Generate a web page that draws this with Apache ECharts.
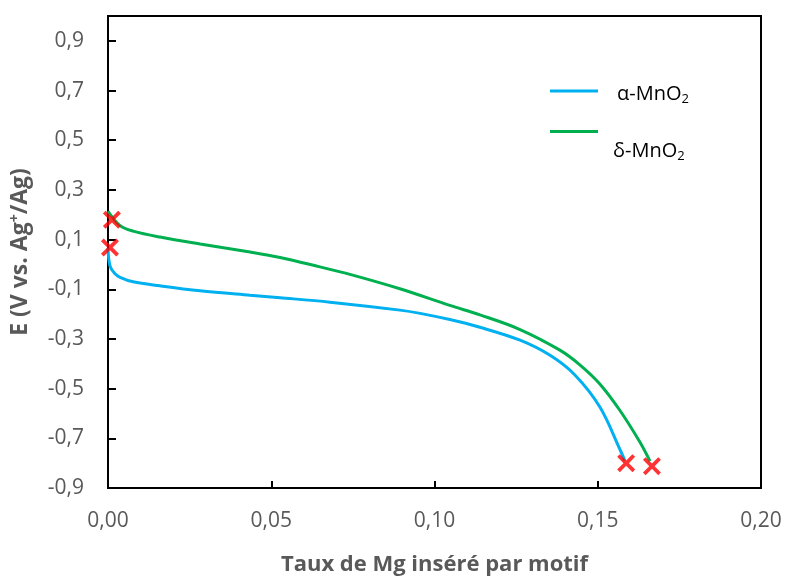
<!DOCTYPE html>
<html>
<head>
<meta charset="utf-8">
<script src="https://cdn.jsdelivr.net/npm/echarts@6/dist/echarts.min.js"></script>
<style>html,body{margin:0;padding:0;background:#fff}#c{width:787px;height:581px}</style>
</head>
<body>
<div id="c"></div>
<script>
// Data
var alphaX = [0, 0.0006, 0.0020, 0.0037, 0.0077, 0.0159, 0.0282, 0.0435, 0.0527, 0.068, 0.0894, 0.0956, 0.1047, 0.1139, 0.1262, 0.1354, 0.143, 0.1507, 0.1568, 0.1583];
var alphaY = [0.065, -0.006, -0.036, -0.052, -0.070, -0.086, -0.106, -0.124, -0.134, -0.152, -0.184, -0.197, -0.222, -0.253, -0.305, -0.366, -0.445, -0.575, -0.745, -0.790];
var deltaX = [0, 0.0037, 0.0077, 0.0159, 0.0282, 0.0435, 0.0527, 0.0649, 0.0741, 0.0894, 0.1047, 0.1139, 0.1262, 0.1384, 0.1446, 0.1507, 0.1568, 0.1629, 0.166];
var deltaY = [0.214, 0.156, 0.134, 0.110, 0.082, 0.050, 0.028, -0.010, -0.040, -0.098, -0.165, -0.203, -0.262, -0.345, -0.405, -0.482, -0.588, -0.715, -0.792];
var markX = [0.0006, 0.1587, 0.0012, 0.1666];
var markY = [0.068, -0.800, 0.180, -0.812];
var yTicks = [-0.9, -0.7, -0.5, -0.3, -0.1, 0.1, 0.3, 0.5, 0.7, 0.9];
var xTicks = [0, 0.05, 0.10, 0.15, 0.20];
var seriesNames = ['α-MnO2', 'δ-MnO2'];

function pairs(xs, ys) { return xs.map(function (x, i) { return [x, ys[i]]; }); }

var chart = echarts.init(document.getElementById('c'), null, { renderer: 'canvas' });
var FONT = '"Open Sans", sans-serif';
var xPath = 'path://M0,3 L3,0 L10,7 L17,0 L20,3 L13,10 L20,17 L17,20 L10,13 L3,20 L0,17 L7,10 Z';
var legendRich = { sub: { fontSize: 13, verticalAlign: 'bottom', padding: [10, 0, 0, 0], color: '#000', fontFamily: FONT } };
function legendFmt(n) { return n.replace('MnO2', 'MnO{sub|2}'); }

chart.setOption({
  animation: false,
  backgroundColor: '#fff',
  grid: { left: 108, top: 16, right: 26, bottom: 91, show: true, borderColor: '#000', borderWidth: 2 },
  legend: [
    { data: [seriesNames[0]], left: 545, top: 79, orient: 'vertical', itemWidth: 48, itemHeight: 3, icon: 'rect',
      formatter: legendFmt,
      textStyle: { color: '#000', fontSize: 20, fontFamily: FONT, padding: [6, 0, 0, 14], rich: legendRich } },
    { data: [seriesNames[1]], left: 545, top: 125, orient: 'vertical', itemWidth: 48, itemHeight: 3, icon: 'rect',
      formatter: legendFmt,
      textStyle: { color: '#000', fontSize: 20, fontFamily: FONT, padding: [40, 0, 0, 10], rich: legendRich } }
  ],
  xAxis: {
    type: 'value', min: 0, max: 0.2, interval: 0.05,
    name: 'Taux de Mg inséré par motif', nameLocation: 'middle', nameGap: 66,
    nameTextStyle: { color: '#595959', fontSize: 22, fontWeight: 'bold', fontFamily: FONT },
    axisLine: { show: true, onZero: false, lineStyle: { color: '#000', width: 2 } },
    axisTick: { show: true, inside: true, length: 7, lineStyle: { color: '#000', width: 2 }, customValues: xTicks },
    axisLabel: { color: '#595959', fontSize: 21, fontFamily: FONT, margin: 23, customValues: xTicks,
      formatter: function (v) { return v.toFixed(2).replace('.', ','); } },
    splitLine: { show: false }
  },
  yAxis: {
    type: 'value', min: -0.9, max: 1.0,
    name: 'E (V vs. Ag{sup|+}/Ag)', nameLocation: 'middle', nameGap: 76, nameRotate: 90,
    nameTextStyle: { color: '#595959', fontSize: 23, fontWeight: 'bold', fontFamily: FONT,
      rich: { sup: { fontSize: 14, fontWeight: 'bold', color: '#595959', verticalAlign: 'top', padding: [0, 0, 10, 0], fontFamily: FONT } } },
    axisLine: { show: true, onZero: false, lineStyle: { color: '#000', width: 2 } },
    axisTick: { show: true, inside: true, length: 8, lineStyle: { color: '#000', width: 2 }, customValues: yTicks },
    axisLabel: { color: '#595959', fontSize: 21, fontFamily: FONT, margin: 24, customValues: yTicks,
      formatter: function (v) { return v.toFixed(1).replace('.', ','); } },
    splitLine: { show: false }
  },
  series: [
    { name: seriesNames[0], type: 'line', data: pairs(alphaX, alphaY), smooth: 0.35, symbol: 'none',
      lineStyle: { color: '#00B0F0', width: 3 }, itemStyle: { color: '#00B0F0' } },
    { name: seriesNames[1], type: 'line', data: pairs(deltaX, deltaY), smooth: 0.35, symbol: 'none',
      lineStyle: { color: '#00B050', width: 3 }, itemStyle: { color: '#00B050' } },
    { name: 'marks', type: 'scatter', data: pairs(markX, markY), symbol: xPath, symbolSize: 18,
      itemStyle: { color: '#FF0000' }, z: 5 }
  ]
});
</script>
</body>
</html>
